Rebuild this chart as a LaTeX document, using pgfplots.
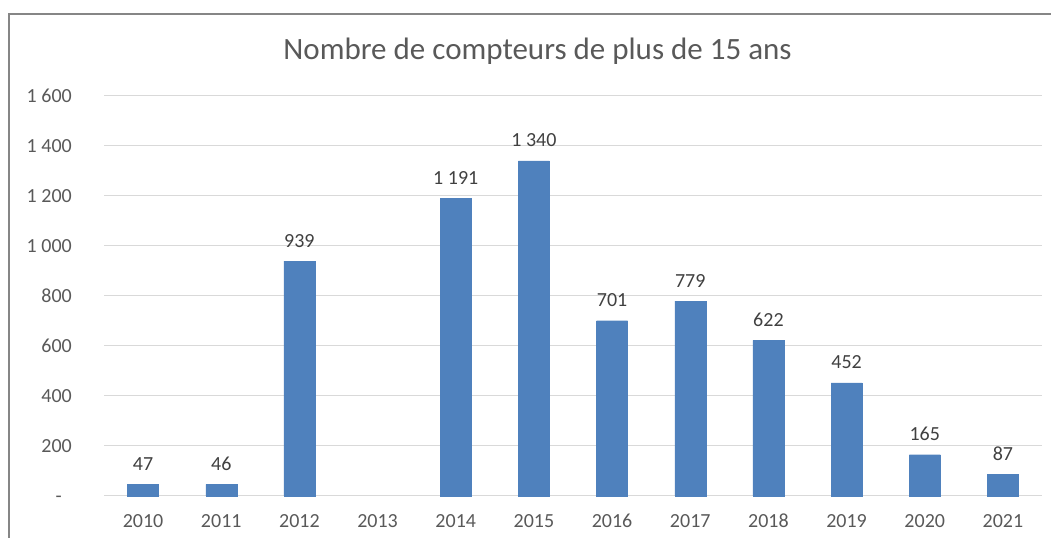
\documentclass[border=0pt]{standalone}
\usepackage{pgfplots}
\pgfplotsset{compat=1.18}
\usepackage{fontspec}
\setmainfont{Carlito}
\definecolor{barblue}{HTML}{4F81BD}
\definecolor{gridgray}{HTML}{D9D9D9}
\definecolor{labgray}{HTML}{595959}
\definecolor{datgray}{HTML}{404040}
\definecolor{bordergray}{HTML}{868686}
\begin{document}
\begin{tikzpicture}[x=1bp,y=1bp]
\useasboundingbox (0,0) rectangle (1051,538);
\draw[bordergray, line width=1.2bp] (9,524) rectangle (1080,-30);
\node[font=\fontsize{31bp}{36bp}\selectfont, text=labgray] at (537.5,487) {Nombre de compteurs de plus de 15 ans};
\begin{axis}[
  at={(104bp,42bp)}, anchor=south west,
  scale only axis, width=938bp, height=400bp,
  xmin=-0.5, xmax=11.5, ymin=0, ymax=1600,
  ybar, bar width=31bp,
  clip=false,
  axis line style={draw=none},
  major tick length=0pt,
  ymajorgrids,
  grid style={gridgray, line width=1bp},
  ytick={0,200,...,1600},
  yticklabels={-\phantom{0},200,400,600,800,1\ 000,1\ 200,1\ 400,1\ 600},
  xtick={0,...,11},
  xticklabels={2010,2011,2012,2013,2014,2015,2016,2017,2018,2019,2020,2021},
  yticklabel style={font=\fontsize{20bp}{24bp}\selectfont, text=labgray, inner sep=0pt, anchor=east, xshift=-32bp},
  xticklabel style={font=\fontsize{20bp}{24bp}\selectfont, text=labgray, inner sep=0pt, anchor=base, yshift=-32bp},
  point meta=explicit symbolic,
  nodes near coords,
  every node near coord/.append style={font=\fontsize{20bp}{24bp}\selectfont, text=datgray, inner sep=0pt, anchor=base, yshift=14bp},
]
\addplot[fill=barblue, draw=barblue, bar shift=0pt] coordinates {
  (0,47) [47]
  (1,46) [46]
  (2,939) [939]
  (4,1191) [1\ 191]
  (5,1340) [1\ 340]
  (6,701) [701]
  (7,779) [779]
  (8,622) [622]
  (9,452) [452]
  (10,165) [165]
  (11,87) [87]
};
\end{axis}
\end{tikzpicture}
\end{document}
